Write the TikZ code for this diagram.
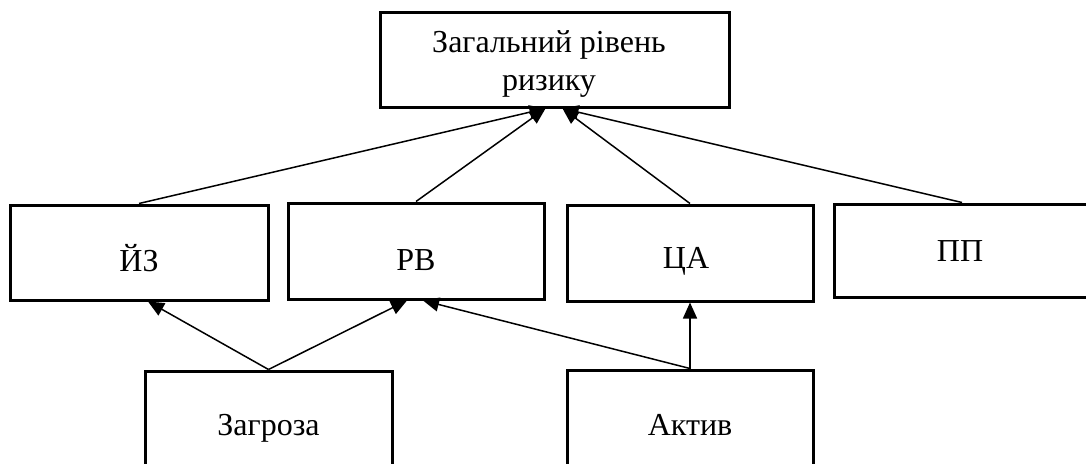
\documentclass[tikz,border=0pt]{standalone}
\usepackage{fontspec}
\setmainfont{Liberation Serif}
\usetikzlibrary{arrows.meta}
\begin{document}
\begin{tikzpicture}[x=1pt,y=-1pt,
  box/.style={draw=black,line width=3pt,rectangle,inner sep=0pt},
  lbl/.style={font=\fontsize{32}{38}\selectfont,align=center,inner sep=0pt},
  link/.style={line width=1.5pt,-{Triangle[length=16pt,width=14pt]}}]
\useasboundingbox (0,0) rectangle (1086,463);
\begin{scope}
\clip (0,0) rectangle (1086,463);
% top level
\node[box,minimum width=349pt,minimum height=95pt] (total) at (554.5,59.5) {};
\node[lbl] (totaltext) at (549,64) {Загальний рівень\\ризику};
% middle row
\node[box,minimum width=258pt,minimum height=95pt] (jz) at (139,252.5) {};
\node[lbl] (jztext) at (139,258) {ЙЗ};
\node[box,minimum width=256pt,minimum height=96pt] (rv) at (416,251) {};
\node[lbl] (rvtext) at (416,260) {РВ};
\node[box,minimum width=246pt,minimum height=96pt] (ca) at (690,253) {};
\node[lbl] (catext) at (686,261) {ЦА};
\node[box,minimum width=256pt,minimum height=93pt] (pp) at (962,250.5) {};
\node[lbl] (pptext) at (960,251) {ПП};
% bottom row (runs past the lower edge)
\node[box,minimum width=247pt,minimum height=130pt] (threat) at (268.5,436) {};
\node[lbl] (threattext) at (268.5,428) {Загроза};
\node[box,minimum width=246pt,minimum height=130pt] (asset) at (690,435) {};
\node[lbl] (assettext) at (690,425) {Актив};
\end{scope}
% connectors to the overall risk level
\draw[link] (jz.north) -- ([xshift=-9pt]total.south);
\draw[link] (rv.north) -- ([xshift=-9pt]total.south);
\draw[link] (ca.north) -- ([xshift=8pt]total.south);
\draw[link] (pp.north) -- ([xshift=8pt]total.south);
% connectors from threat and asset
\draw[link] (threat.north) -- ([xshift=9pt]jz.south);
\draw[link] (threat.north) -- ([xshift=-9pt]rv.south);
\draw[link] (asset.north) -- ([xshift=7pt]rv.south);
\draw[link] (asset.north) -- (ca.south);
\end{tikzpicture}
\end{document}
